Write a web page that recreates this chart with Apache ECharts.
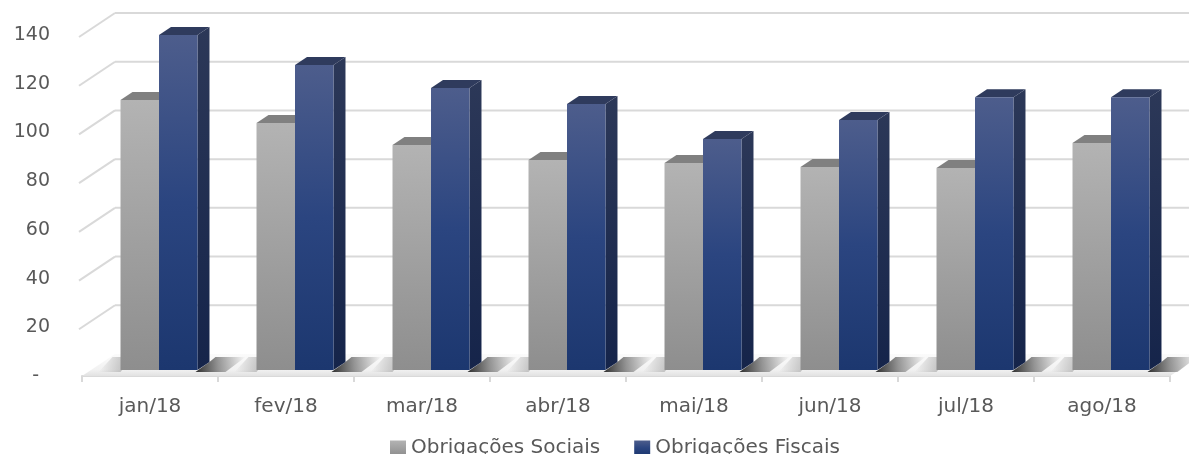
<!DOCTYPE html>
<html><head><meta charset="utf-8">
<script src="https://cdn.jsdelivr.net/npm/echarts@6/dist/echarts.min.js"></script>
<style>html,body{margin:0;padding:0;background:#fff}#c{width:1189px;height:454px}</style>
</head><body><div id="c"></div>
<script>
const categories = ['jan/18','fev/18','mar/18','abr/18','mai/18','jun/18','jul/18','ago/18'];
const seriesNames = ['Obrigações Sociais','Obrigações Fiscais'];
const sociais = [110.8,101.4,92.4,86.2,85,83.3,82.9,93.2];
const fiscais = [137.5,125.2,115.8,109.2,94.8,102.6,112,112];
const yTicks = [0,20,40,60,80,100,120,140];

// 3D projection offsets (pixels)
const WALL = [33,-22];
const BARPLANE = [9,-6];
const DEPTH = [12,-8];
const BAR_FRAC = 0.283;
const FONT = 'DejaVu Sans';

const G = echarts.graphic.LinearGradient;
const grayFront = new G(0,0,0,1,[{offset:0,color:'#b3b3b3'},{offset:1,color:'#8e8e8e'}]);
const blueFront = new G(0,0,0,1,[{offset:0,color:'#4d5d8c'},{offset:0.5,color:'#2b4580'},{offset:1,color:'#1c376f'}]);
const styles = [
  {front: grayFront, top:'#808080', side: new G(0,0,0,1,[{offset:0,color:'#7a7a7a'},{offset:1,color:'#666'}])},
  {front: blueFront, top:'#2f3b5d', side: new G(0,0,0,1,[{offset:0,color:'#2c3858'},{offset:1,color:'#15244a'}])}
];

function barRender(si){
  return function(params, api){
    const i = api.value(0), v = api.value(1);
    const band = api.size([1,0])[0];
    const c = api.coord([i,0]), t = api.coord([i,v]);
    const w = band*BAR_FRAC;
    const x0 = c[0] + BARPLANE[0] + (si===0 ? -w : 0);
    const x1 = x0 + w;
    const yb = c[1] + BARPLANE[1], yt = t[1] + BARPLANE[1];
    const dx = DEPTH[0], dy = DEPTH[1], s = styles[si];
    return {type:'group', children:[
      {type:'polygon', shape:{points:[[x1,yt],[x1+dx,yt+dy],[x1+dx,yb+dy],[x1,yb]]}, style:{fill:s.side}},
      {type:'polygon', shape:{points:[[x0,yt],[x0+dx,yt+dy],[x1+dx,yt+dy],[x1,yt]]}, style:{fill:s.top}},
      {type:'rect', shape:{x:x0,y:yt,width:w,height:yb-yt}, style:{fill:s.front}}
    ]};
  };
}

function shadowRender(params, api){
  const i = api.value(0);
  const band = api.size([1,0])[0];
  const c = api.coord([i,0]);
  const w = band*BAR_FRAC;
  const xr = c[0] + BARPLANE[0] + w, xl = c[0] + BARPLANE[0] - w;
  const yb = c[1] + BARPLANE[1];
  const yBack = c[1] + WALL[1] + 1;
  return {type:'group', children:[
    {type:'polygon', shape:{points:[[xl-22,yb+2],[xl-8,yBack+2],[xl+DEPTH[0],yBack+2],[xl,yb+2]]},
      style:{fill:new G(0,0,1,0,[{offset:0,color:'rgba(0,0,0,0)'},{offset:1,color:'rgba(0,0,0,0.28)'}])}},
    {type:'polygon', shape:{points:[[xr-2,yb+2],[xr+DEPTH[0],yb+DEPTH[1]],[xr+DEPTH[0]+6,yBack+2],[xr+48,yBack+2],[xr+28,yb+2]]},
      style:{fill:new G(0,0,1,0,[{offset:0,color:'rgba(0,0,0,0.8)'},{offset:0.45,color:'rgba(0,0,0,0.4)'},{offset:1,color:'rgba(0,0,0,0)'}])}}
  ]};
}

function floorRender(params, api){
  const cs = params.coordSys;
  const yF = cs.y + cs.height;
  return {type:'polygon', shape:{points:[[cs.x,yF],[cs.x+cs.width,yF],[cs.x+cs.width+WALL[0],yF+WALL[1]],[cs.x+WALL[0],yF+WALL[1]]]},
    style:{fill:new G(0,0,0,1,[{offset:0,color:'#fbfbfb'},{offset:0.7,color:'#f2f2f2'},{offset:1,color:'#e2e2e2'}])}};
}

function gridRender(params, api){
  const cs = params.coordSys;
  const p = api.coord([0, api.value(1)]);
  const y = p[1];
  const st = {stroke:'#d9d9d9', lineWidth:2};
  return {type:'group', children:[
    {type:'line', shape:{x1:cs.x-3, y1:y+2, x2:cs.x+WALL[0], y2:y+WALL[1]}, style:st},
    {type:'line', shape:{x1:cs.x+WALL[0], y1:y+WALL[1], x2:cs.x+cs.width+WALL[0]+20, y2:y+WALL[1]}, style:st}
  ]};
}

const chart = echarts.init(document.getElementById('c'), null, {renderer:'canvas'});
chart.setOption({
  animation:false,
  backgroundColor:'#fff',
  grid:{left:82, right:19, top:35, bottom:78},
  legend:{
    data:seriesNames, left:385, top:433, icon:'rect', itemWidth:16, itemHeight:15, itemGap:34,
    textStyle:{fontFamily:FONT, fontSize:20, color:'#595959'}
  },
  xAxis:{
    type:'category', data:categories, boundaryGap:true,
    axisLine:{show:true, lineStyle:{color:'#d9d9d9', width:2}},
    axisTick:{show:true, length:6, lineStyle:{color:'#d9d9d9', width:2}},
    axisLabel:{fontFamily:FONT, fontSize:20, color:'#595959', margin:21},
    splitLine:{show:false}
  },
  yAxis:{
    type:'value', min:0, max:140, interval:20,
    axisLine:{show:false}, axisTick:{show:false}, splitLine:{show:false},
    axisLabel:{fontFamily:FONT, fontSize:19, color:'#595959', margin:32,
      formatter:function(v){ return v===0 ? '{d|-}' : String(v); },
      rich:{d:{fontFamily:FONT, fontSize:19, color:'#595959', padding:[0,11,0,0]}}}
  },
  series:[
    {type:'custom', name:'floor', renderItem:floorRender, data:[[0,0]], z:1, silent:true},
    {type:'custom', name:'grid', renderItem:gridRender, data:yTicks.filter(v=>v>0).map(v=>[0,v]), z:1, silent:true},
    {type:'custom', name:'shadow', renderItem:shadowRender, data:categories.map((c,i)=>[i,0]), z:2, silent:true},
    {type:'custom', name:seriesNames[0], renderItem:barRender(0), data:sociais.map((v,i)=>[i,v]),
      itemStyle:{color:grayFront}, encode:{x:0,y:1}, z:3},
    {type:'custom', name:seriesNames[1], renderItem:barRender(1), data:fiscais.map((v,i)=>[i,v]),
      itemStyle:{color:blueFront}, encode:{x:0,y:1}, z:3}
  ]
});
</script></body></html>
